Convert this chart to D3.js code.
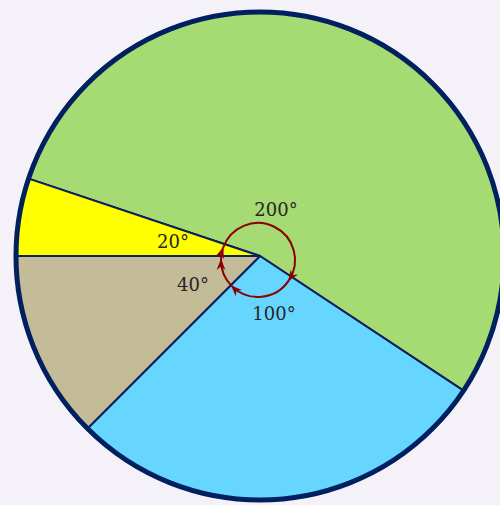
<!DOCTYPE html>
<html>
<head>
<meta charset="utf-8">
<script src="https://d3js.org/d3.v7.min.js"></script>
<style>
    body { margin: 0; background: #f4f2f8; }
    svg { width: 500px; height: 505px; display: block; }
</style>
</head>
<body>
<svg></svg>
<script>
    // slices as drawn (degrees), clockwise starting at the yellow/green edge
    var slices = ['green', 'blue', 'tan', 'yellow'];
    var angles = [195, 101.5, 45, 18.5];
    var labels = ['200°', '100°', '40°', '20°'];
    var colors = ['#a6da72', '#66d6ff', '#c4bc98', '#ffff00'];

    var cx = 260, cy = 256, R = 244;
    var startDeg = -71.5;
    var rad = Math.PI / 180;

    var svg = d3.select('svg');
    var defs = svg.append('defs');
    defs.append('marker')
        .attr('id', 'arr')
        .attr('viewBox', '0 0 10 10')
        .attr('refX', 9)
        .attr('refY', 5)
        .attr('markerWidth', 11)
        .attr('markerHeight', 11)
        .attr('markerUnits', 'userSpaceOnUse')
        .attr('orient', 'auto')
        .append('path')
        .attr('d', 'M0,1 L10,5 L0,9 L3,5 Z')
        .attr('fill', '#8b0000');

    var pie = d3.pie()
        .sort(null)
        .value(function(d) { return d; })
        .startAngle(startDeg * rad)
        .endAngle((startDeg + 360) * rad);
    var arcs = pie(angles);

    var arc = d3.arc().innerRadius(0).outerRadius(R);

    var g = svg.append('g').attr('transform', 'translate(' + cx + ',' + cy + ')');

    g.selectAll('path.slice')
        .data(arcs)
        .enter()
        .append('path')
        .attr('class', 'slice')
        .attr('d', arc)
        .attr('fill', function(d, i) { return colors[i]; })
        .attr('stroke', '#0d2158')
        .attr('stroke-width', 2)
        .attr('stroke-linejoin', 'round');

    g.append('circle')
        .attr('r', R)
        .attr('fill', 'none')
        .attr('stroke', '#002060')
        .attr('stroke-width', 5);

    // angle arcs with arrows
    var ac = g.append('g').attr('transform', 'translate(-2,4)');
    var r0 = 37;
    arcs.forEach(function(d) {
        var p = d3.path();
        var a0 = d.startAngle - Math.PI / 2, a1 = d.endAngle - Math.PI / 2;
        p.moveTo(r0 * Math.cos(a0), r0 * Math.sin(a0));
        p.arc(0, 0, r0, a0, a1, false);
        ac.append('path')
            .attr('d', p.toString())
            .attr('fill', 'none')
            .attr('stroke', '#8b0000')
            .attr('stroke-width', 2)
            .attr('marker-end', 'url(#arr)');
    });

    // label offsets from centre
    var labelPos = [[16, -47], [14, 57], [-67, 28], [-87, -15]];
    g.selectAll('text.lbl')
        .data(labels)
        .enter()
        .append('text')
        .attr('class', 'lbl')
        .attr('x', function(d, i) { return labelPos[i][0]; })
        .attr('y', function(d, i) { return labelPos[i][1]; })
        .attr('text-anchor', 'middle')
        .attr('dominant-baseline', 'central')
        .attr('font-family', 'DejaVu Serif')
        .attr('font-size', 18)
        .attr('fill', '#262626')
        .text(function(d) { return d; });
</script>
</body>
</html>
